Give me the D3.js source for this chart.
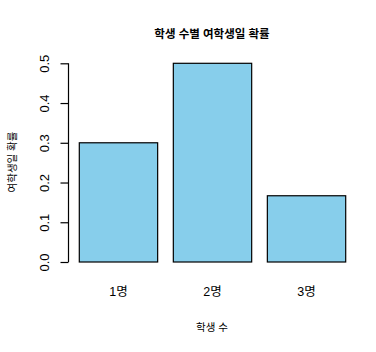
<!DOCTYPE html>
<html>
<head>
<meta charset="utf-8">
<script src="https://cdn.jsdelivr.net/npm/d3@7"></script>
<style>
  body { margin: 0; background: #fff; }
  text { font-family: "Liberation Sans", Arial, "Noto Sans CJK KR", sans-serif; fill: #000; }
</style>
</head>
<body>
<div id="chart"></div>
<script>
// chart data
const categories = ['1명', '2명', '3명']
const probs = [0.3, 0.5, 0.1667]
const yTicks = [0, 0.1, 0.2, 0.3, 0.4, 0.5]

const titleText = '학생 수별 여학생일 확률'
const xTitle = '학생 수'
const yTitle = '여학생일 확률'

const plotChart = () => {

    const width = 376
    const height = 352

    const svg = d3.select('#chart')
        .append('svg')
        .attr('width', width)
        .attr('height', height)

    // bar scale: width 1, space 0.2 like barplot
    const xScale = d3.scaleBand()
        .domain(categories)
        .range([79.3, 345.7])
        .paddingInner(0.2 / 1.2)
        .paddingOuter(0)

    const yScale = d3.scaleLinear()
        .domain([0, 0.5])
        .range([262, 63.3])

    // bars
    svg.selectAll('.bar')
        .data(probs)
        .enter()
        .append('rect')
            .attr('class', 'bar')
            .attr('x', (d, i) => xScale(categories[i]))
            .attr('y', d => yScale(d))
            .attr('width', xScale.bandwidth())
            .attr('height', d => yScale(0) - yScale(d))
            .attr('fill', '#87CEEB')
            .attr('stroke', '#000')
            .attr('stroke-width', 1.2)

    // y axis
    const yAxis = d3.axisLeft(yScale)
        .tickValues(yTicks)
        .tickSize(8)
        .tickFormat(d3.format('.1f'))

    const yGroup = svg.append('g')
        .attr('transform', 'translate(68.5, 0)')
        .call(yAxis)

    yGroup.select('.domain')
        .attr('d', `M0,${yScale(0)}V${yScale(0.5)}`)
        .attr('stroke', '#000')
        .attr('stroke-width', 1.2)

    yGroup.selectAll('.tick line')
        .attr('stroke', '#000')
        .attr('stroke-width', 1.2)

    yGroup.selectAll('.tick text')
        .attr('x', 0)
        .attr('dy', 0)
        .attr('transform', d => `translate(-24, 0) rotate(-90)`)
        .attr('text-anchor', 'middle')
        .attr('dominant-baseline', 'central')
        .attr('font-size', '13px')
        .style('font-family', '"Liberation Sans", Arial, sans-serif')
        .attr('fill', '#000')

    // category labels
    svg.selectAll('.catLabel')
        .data(categories)
        .enter()
        .append('text')
            .attr('class', 'catLabel')
            .attr('x', d => xScale(d) + xScale.bandwidth() / 2)
            .attr('y', 292)
            .attr('text-anchor', 'middle')
            .attr('dominant-baseline', 'central')
            .attr('font-size', '12.5px')
            .text(d => d)

    // title
    svg.append('text')
        .attr('x', 212)
        .attr('y', 34)
        .attr('text-anchor', 'middle')
        .attr('dominant-baseline', 'central')
        .attr('font-size', '11.5px')
        .attr('font-weight', 'bold')
        .text(titleText)

    // axis titles
    svg.append('text')
        .attr('x', 212)
        .attr('y', 326.5)
        .attr('text-anchor', 'middle')
        .attr('dominant-baseline', 'central')
        .attr('font-size', '10.5px')
        .text(xTitle)

    svg.append('text')
        .attr('transform', 'translate(12, 162) rotate(-90)')
        .attr('text-anchor', 'middle')
        .attr('dominant-baseline', 'central')
        .attr('font-size', '10.5px')
        .text(yTitle)
}

plotChart()
</script>
</body>
</html>
